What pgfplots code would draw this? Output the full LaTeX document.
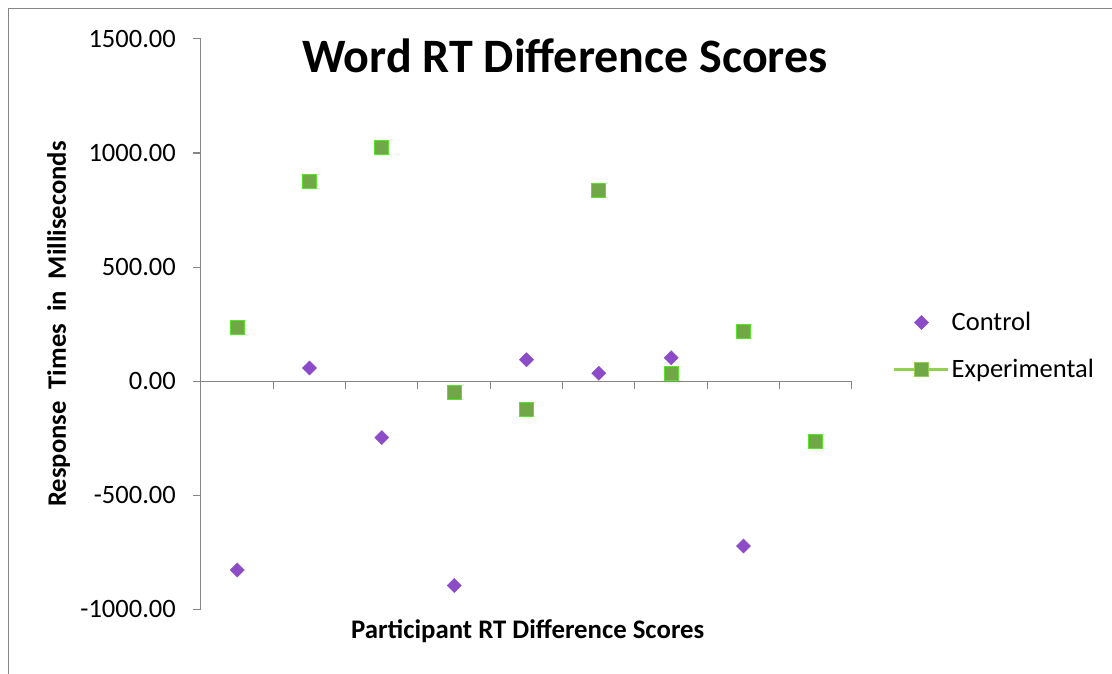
\documentclass[border=0pt]{standalone}
\usepackage{fontspec}
\setmainfont{Carlito}
\usepackage{pgfplots}
\pgfplotsset{compat=1.18}
\definecolor{ctrl}{RGB}{141,76,199}
\definecolor{expfill}{RGB}{112,168,72}
\definecolor{expdraw}{RGB}{85,230,40}
\definecolor{leglight}{RGB}{146,208,80}
\definecolor{axgray}{RGB}{134,134,134}
\begin{document}
\begin{tikzpicture}[x=1pt,y=1pt]
\useasboundingbox (0,0) rectangle (1112,-674);
\draw[axgray, line width=1.5pt] (8.5,-674) -- (8.5,-8.5) -- (1112,-8.5);
\begin{axis}[
 at={(201pt,-609pt)}, anchor=south west,
 scale only axis, width=651pt, height=570pt,
 xmin=0.5, xmax=9.5, ymin=-1000, ymax=1500,
 axis x line=middle, axis y line=left,
 axis line style={axgray, line width=1pt, -},
 every inner x axis line/.append style={-},
 every outer y axis line/.append style={-},
 xtick={0.5,1.5,...,9.5}, xticklabels={},
 ytick={-1000,-500,0,500,1000,1500},
 tick align=outside, major tick length=8pt,
 tick style={axgray, line width=1pt},
 yticklabel style={font=\fontsize{26.5}{31}\selectfont, anchor=east, inner sep=0pt},
 yticklabel shift=17pt,
 /pgf/number format/fixed, /pgf/number format/fixed zerofill,
 /pgf/number format/precision=2, /pgf/number format/1000 sep={},
 /pgf/number format/assume math mode=true,
 xlabel={Participant RT Difference Scores},
 xlabel style={font=\bfseries\fontsize{26.8}{31}\selectfont, at={(axis description cs:0.502,-0.0526)}, anchor=base},
 ylabel={Response~~Times~~in~~Milliseconds},
 ylabel style={font=\bfseries\fontsize{26.6}{31}\selectfont, at={(axis description cs:-0.2074,0.5)}, anchor=base},
 legend style={at={(axis description cs:1.063,0.524)}, anchor=north west, draw=none, fill=none, inner sep=0pt, row sep=23pt, font=\fontsize{26.5}{31}\selectfont, legend cell align=left, nodes={inner sep=2pt}},
 clip=false,
]
\addplot[only marks, mark=square*, mark size=5pt, mark options={rotate=45, fill=ctrl, draw=ctrl},
 legend image code/.code={\draw[mark repeat=3, mark phase=2] plot coordinates {(0pt,0pt) (27pt,0pt) (54pt,0pt)};}]
 coordinates {(1,-829) (2,57) (3,-248) (4,-897) (5,93) (6,34) (7,102) (8,-724)};
\addlegendentry{Control}
\addplot[only marks, mark=square*, mark size=7pt, mark options={fill=expfill, draw=expdraw, line width=1pt},
 legend image code/.code={\draw[leglight, line width=2.5pt] (0pt,0pt) -- (54pt,0pt);
   \draw[mark repeat=3, mark phase=2, mark options={fill=expfill, draw=leglight}] plot coordinates {(0pt,0pt) (27pt,0pt) (54pt,0pt)};}]
 coordinates {(1,235) (2,877) (3,1026) (4,-51) (5,-125) (6,834) (7,35) (8,218) (9,-266)};
\addlegendentry{Experimental}
\end{axis}
\node[font=\bfseries\fontsize{48}{56}\selectfont, anchor=base] at (565,-73) {Word RT Difference Scores};
\end{tikzpicture}
\end{document}
